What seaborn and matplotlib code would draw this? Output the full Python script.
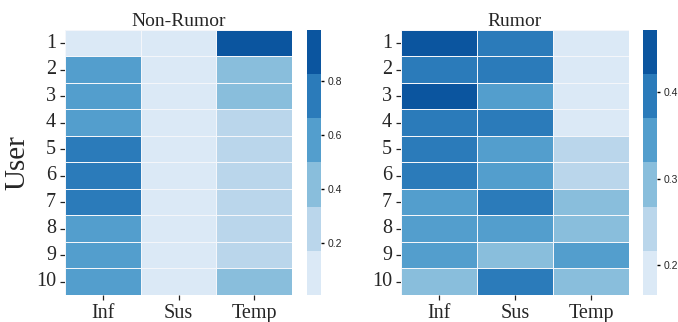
import numpy as np
import pandas as pd
import seaborn as sns
import matplotlib
matplotlib.use("Agg")
import matplotlib.pyplot as plt
from matplotlib.colors import ListedColormap

users = [str(i) for i in range(1, 11)]
features = ["Inf", "Sus", "Temp"]

nonrumor_inf = [0.010, 0.58, 0.57, 0.62, 0.72, 0.73, 0.74, 0.65, 0.64, 0.58]
nonrumor_sus = [0.007, 0.010, 0.010, 0.040, 0.010, 0.010, 0.010, 0.020, 0.030, 0.020]
nonrumor_temp = [0.990, 0.41, 0.42, 0.32, 0.27, 0.26, 0.25, 0.33, 0.33, 0.40]

rumor_inf = [0.471, 0.41, 0.46, 0.41, 0.40, 0.40, 0.35, 0.35, 0.35, 0.30]
rumor_sus = [0.38, 0.40, 0.34, 0.40, 0.35, 0.34, 0.38, 0.34, 0.30, 0.40]
rumor_temp = [0.17, 0.19, 0.166, 0.19, 0.25, 0.26, 0.28, 0.30, 0.34, 0.29]

df_nr = pd.DataFrame({"Inf": nonrumor_inf, "Sus": nonrumor_sus, "Temp": nonrumor_temp}, index=users)
df_r = pd.DataFrame({"Inf": rumor_inf, "Sus": rumor_sus, "Temp": rumor_temp}, index=users)

sns.set_style("ticks")
serif = ["Liberation Serif", "DejaVu Serif"]
cmap = ListedColormap(sns.color_palette("Blues", 6))

fig = plt.figure(figsize=(6.78, 3.22), dpi=100)
ax1 = fig.add_axes([0.0959, 0.0839, 0.3348, 0.823])
cax1 = fig.add_axes([0.4528, 0.0839, 0.0206, 0.823])
ax2 = fig.add_axes([0.5914, 0.0839, 0.3363, 0.823])
cax2 = fig.add_axes([0.9484, 0.0839, 0.0206, 0.823])

for ax, cax, df, title, ticks in [
    (ax1, cax1, df_nr, "Non-Rumor", [0.2, 0.4, 0.6, 0.8]),
    (ax2, cax2, df_r, "Rumor", [0.2, 0.3, 0.4]),
]:
    sns.heatmap(df, ax=ax, cbar_ax=cax, cmap=cmap, linewidths=0.5, linecolor="#f4f6fa",
                cbar_kws={"ticks": ticks})
    ax.set_title(title, fontsize=14, family=serif, pad=3)
    ax.set_xticklabels(features, fontsize=14.5, family=serif, rotation=0)
    ax.set_yticklabels(users, fontsize=14.5, family=serif, rotation=0)
    ax.tick_params(axis="both", length=3.5, width=0.9, pad=3, color="#222222")
    cax.tick_params(labelsize=7.5, length=2.5, width=1, pad=2, color="black")
    for t in cax.get_yticklabels():
        t.set_family(["Liberation Sans", "DejaVu Sans"])
    cax.set_frame_on(False)

ax1.set_ylabel("User", fontsize=21, family=serif, labelpad=4)
ax2.set_ylabel("")

fig.savefig("out.png", dpi=100)
